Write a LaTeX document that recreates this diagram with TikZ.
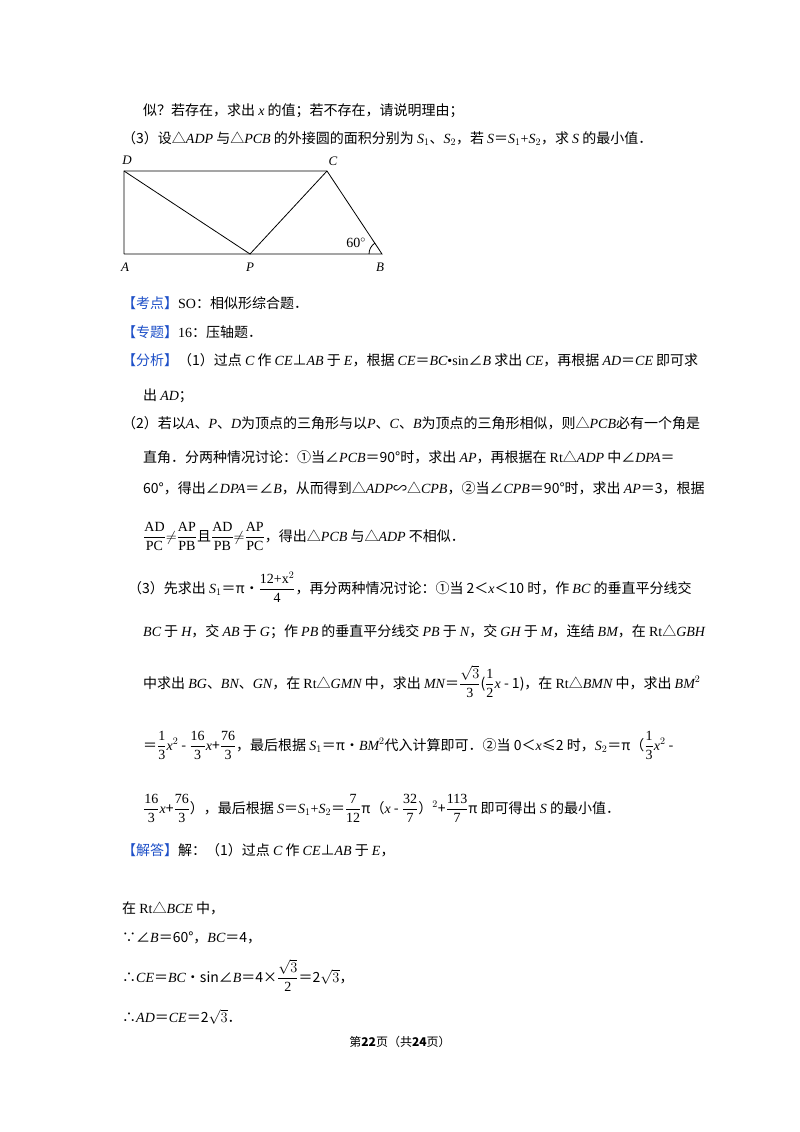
\documentclass[tikz,border=0pt]{standalone}
\usepackage{fontspec}
\setmainfont{Noto Sans CJK SC}
\newfontfamily\lat{Liberation Serif}
\newcommand{\mi}[1]{{\lat\itshape #1}}
\newcommand{\mr}[1]{{\lat #1}}
\newcommand{\fr}[2]{$\displaystyle\frac{\mbox{\mr{#1}}}{\mbox{\mr{#2}}}$}
\definecolor{tagblue}{RGB}{30,80,200}
\tikzset{tx/.style={anchor=base west,inner sep=0pt,font=\fontsize{14}{17}\selectfont},
lab/.style={inner sep=0pt,font=\lat\itshape\fontsize{13}{15}\selectfont},
seg/.style={line width=0.8pt}}
\newcommand{\tag}[1]{{\color{tagblue}【#1】}}
\begin{document}
\begin{tikzpicture}[x=1pt,y=-1pt]
\useasboundingbox (0,0) rectangle (800,1132);
\fill[white] (0,0) rectangle (800,1132);
\node[tx] (l1) at (143,115) {似？若存在，求出 \mi{x} 的值；若不存在，请说明理由；};
\node[tx] (l2) at (122,143) {（3）设△\mi{ADP} 与△\mi{PCB} 的外接圆的面积分别为 \mi{S}\mr{$_1$}、\mi{S}\mr{$_2$}，若 \mi{S}＝\mi{S}\mr{$_1$+}\mi{S}\mr{$_2$}，求 \mi{S} 的最小值．};
% figure
\coordinate (D) at (124,171); \coordinate (C) at (327,171);
\coordinate (A) at (124,254); \coordinate (P) at (250,254); \coordinate (B) at (382,254);
\draw[seg] (A)--(D)--(C)--(B)--(A);
\draw[seg] (D)--(P)--(C);
\draw[seg] ([shift={(180:13)}]B) arc[start angle=180,end angle=238,radius=13];
\node[lab] (nD) at (127,160) {D};
\node[lab] (nC) at (333,161) {C};
\node[lab] (nA) at (125,267) {A};
\node[lab] (nP) at (250,267) {P};
\node[lab] (nB) at (380,267) {B};
\node[inner sep=0pt,font=\lat\fontsize{14}{15}\selectfont] (n60) at (356,243) {60$^\circ$};
\node[tx] (l3) at (122,308) {\tag{考点}\mr{SO}：相似形综合题．};
\node[tx] (l4) at (122,337) {\tag{专题}\mr{16}：压轴题．};
\node[tx] (l5) at (122,365) {\tag{分析}（1）过点 \mi{C} 作 \mi{CE}⊥\mi{AB} 于 \mi{E}，根据 \mi{CE}＝\mi{BC}\mr{•sin}∠\mi{B} 求出 \mi{CE}，再根据 \mi{AD}＝\mi{CE} 即可求};
\node[tx] (l6) at (143,400) {出 \mi{AD}；};
\node[tx] (l7) at (122,428) {（2）若以\mi{A}、\mi{P}、\mi{D}为顶点的三角形与以\mi{P}、\mi{C}、\mi{B}为顶点的三角形相似，则△\mi{PCB}必有一个角是};
\node[tx] (l8) at (143,462) {直角．分两种情况讨论：①当∠\mi{PCB}＝90°时，求出 \mi{AP}，再根据在 \mr{Rt}△\mi{ADP} 中∠\mi{DPA}＝};
\node[tx] (l9) at (143,493) {60°，得出∠\mi{DPA}＝∠\mi{B}，从而得到△\mi{ADP}∽△\mi{CPB}，②当∠\mi{CPB}＝90°时，求出 \mi{AP}＝3，根据};
\node[tx] (l10) at (143,541) {\fr{AD}{PC}$\neq$\fr{AP}{PB}且\fr{AD}{PB}$\neq$\fr{AP}{PC}，得出△\mi{PCB} 与△\mi{ADP} 不相似．};
\node[tx] (l11) at (128,593) {（3）先求出 \mi{S}\mr{$_1$}＝π•\fr{12+x$^2$}{4}，再分两种情况讨论：①当 2＜\mi{x}＜10 时，作 \mi{BC} 的垂直平分线交};
\node[tx] (l12) at (143,636) {\mi{BC} 于 \mi{H}，交 \mi{AB} 于 \mi{G}；作 \mi{PB} 的垂直平分线交 \mi{PB} 于 \mi{N}，交 \mi{GH} 于 \mi{M}，连结 \mi{BM}，在 \mr{Rt}△\mi{GBH}};
\node[tx] (l13) at (143,688) {中求出 \mi{BG}、\mi{BN}、\mi{GN}，在 \mr{Rt}△\mi{GMN} 中，求出 \mi{MN}＝\fr{$\sqrt{3}$}{3}(\fr{1}{2}\mi{x} - 1)，在 \mr{Rt}△\mi{BMN} 中，求出 \mi{BM}$^2$};
\node[tx] (l14) at (143,750) {＝\fr{1}{3}\mi{x}$^2$ - \fr{16}{3}\mi{x}+\fr{76}{3}，最后根据 \mi{S}\mr{$_1$}＝π•\mi{BM}$^2$代入计算即可．②当 0＜\mi{x}≤2 时，\mi{S}\mr{$_2$}＝π（\fr{1}{3}\mi{x}$^2$ -};
\node[tx] (l15) at (143,813) {\fr{16}{3}\mi{x}+\fr{76}{3}），最后根据 \mi{S}＝\mi{S}\mr{$_1$+}\mi{S}\mr{$_2$}＝\fr{7}{12}π（\mi{x} - \fr{32}{7}）$^2$+\fr{113}{7}π 即可得出 \mi{S} 的最小值．};
\node[tx] (l16) at (122,855) {\tag{解答}解：（1）过点 \mi{C} 作 \mi{CE}⊥\mi{AB} 于 \mi{E}，};
\node[tx] (l17) at (122,913) {在 \mr{Rt}△\mi{BCE} 中，};
\node[tx] (l18) at (122,942) {∵∠\mi{B}＝60°，\mi{BC}＝4，};
\node[tx] (l19) at (122,982) {∴\mi{CE}＝\mi{BC}•sin∠\mi{B}＝4×\fr{$\sqrt{3}$}{2}＝2$\sqrt{3}$，};
\node[tx] (l20) at (122,1022) {∴\mi{AD}＝\mi{CE}＝2$\sqrt{3}$．};
\node[anchor=base,inner sep=0pt,font=\fontsize{12}{14}\selectfont] (foot) at (400,1046) {第\textbf{22}页（共\textbf{24}页）};
\end{tikzpicture}
\end{document}
